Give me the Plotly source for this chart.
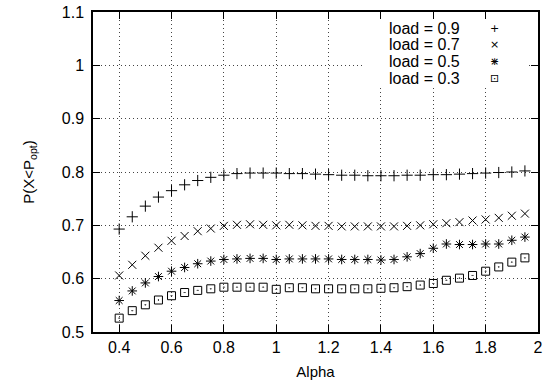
import plotly.graph_objects as go

alpha = [0.40, 0.45, 0.50, 0.55, 0.60, 0.65, 0.70, 0.75, 0.80, 0.85, 0.90, 0.95,
         1.00, 1.05, 1.10, 1.15, 1.20, 1.25, 1.30, 1.35, 1.40, 1.45, 1.50, 1.55,
         1.60, 1.65, 1.70, 1.75, 1.80, 1.85, 1.90, 1.95]

load_09 = [0.693, 0.716, 0.736, 0.753, 0.765, 0.776, 0.784, 0.790, 0.794, 0.797, 0.798, 0.798,
           0.798, 0.797, 0.797, 0.796, 0.795, 0.794, 0.794, 0.793, 0.793, 0.793, 0.794, 0.794,
           0.795, 0.795, 0.796, 0.797, 0.798, 0.799, 0.800, 0.802]

load_07 = [0.606, 0.626, 0.643, 0.658, 0.671, 0.680, 0.689, 0.694, 0.699, 0.701, 0.702, 0.701,
           0.700, 0.701, 0.700, 0.699, 0.699, 0.698, 0.698, 0.698, 0.698, 0.698, 0.699, 0.700,
           0.702, 0.704, 0.706, 0.709, 0.711, 0.714, 0.718, 0.722]

load_05 = [0.559, 0.577, 0.592, 0.604, 0.614, 0.621, 0.628, 0.633, 0.636, 0.637, 0.638, 0.638,
           0.636, 0.637, 0.637, 0.637, 0.637, 0.636, 0.636, 0.636, 0.635, 0.636, 0.641, 0.647,
           0.657, 0.665, 0.664, 0.664, 0.665, 0.665, 0.672, 0.678]

load_03 = [0.526, 0.540, 0.551, 0.560, 0.568, 0.574, 0.578, 0.581, 0.584, 0.584, 0.584, 0.584,
           0.580, 0.583, 0.583, 0.581, 0.581, 0.581, 0.581, 0.581, 0.582, 0.583, 0.585, 0.588,
           0.591, 0.597, 0.601, 0.606, 0.614, 0.622, 0.631, 0.639]

series_names = ["load = 0.9", "load = 0.7", "load = 0.5", "load = 0.3"]
series_values = [load_09, load_07, load_05, load_03]
series_symbols = ["cross-thin-open", "x-thin-open", "asterisk-open", "square-open-dot"]
# key glyphs (asterisk drawn as + overlaid with x, like the gnuplot point type)
legend_glyphs = [["+"], ["×"], ["+", "×"], ["⊡"]]

x_tickvals = [0.4, 0.6, 0.8, 1.0, 1.2, 1.4, 1.6, 1.8, 2.0]
x_ticktext = ["0.4", "0.6", "0.8", "1", "1.2", "1.4", "1.6", "1.8", "2"]
y_tickvals = [0.5, 0.6, 0.7, 0.8, 0.9, 1.0, 1.1]
y_ticktext = ["0.5", "0.6", "0.7", "0.8", "0.9", "1", "1.1"]

FONT = "Liberation Sans, Arial, sans-serif"
FS = 16

fig = go.Figure()
for name, vals, sym in zip(series_names, series_values, series_symbols):
    fig.add_trace(go.Scatter(
        x=alpha, y=vals, name=name, mode="markers",
        marker=dict(symbol=sym, size=8, color="black",
                    line=dict(color="black", width=1)),
        showlegend=False,
    ))

# opaque key box: covers the grid lines, stops just under the mirrored top ticks
fig.add_shape(type="rect", xref="paper", yref="paper",
              x0=0.6045, x1=0.9775, y0=0.7625, y1=0.9765,
              fillcolor="white", line=dict(width=0), layer="above")

row_y = [0.950, 0.897, 0.844, 0.792]
for name, glyphs, yy in zip(series_names, legend_glyphs, row_y):
    fig.add_annotation(xref="paper", yref="paper", x=0.829, y=yy,
                       text=name, showarrow=False, xanchor="right", yanchor="middle",
                       font=dict(family=FONT, size=FS, color="black"))
    for g in glyphs:
        fig.add_annotation(xref="paper", yref="paper", x=0.903, y=yy,
                           text=g, showarrow=False, xanchor="center", yanchor="middle",
                           font=dict(family="DejaVu Sans", size=11, color="black"))

axis_common = dict(
    showline=True, linecolor="black", linewidth=1.5, mirror="ticks",
    ticks="inside", ticklen=7, tickwidth=1, tickcolor="black",
    showgrid=True, gridcolor="#444444", griddash="1px,3px", gridwidth=1,
    zeroline=False, automargin=False,
    tickfont=dict(family=FONT, size=FS, color="black"),
)

fig.update_xaxes(range=[0.3, 2.0], tickmode="array", tickvals=x_tickvals, ticktext=x_ticktext,
                 title=dict(text="Alpha", font=dict(family=FONT, size=FS - 1, color="black"), standoff=12),
                 **axis_common)
fig.update_yaxes(range=[0.5, 1.1], tickmode="array", tickvals=y_tickvals, ticktext=y_ticktext,
                 ticklabelstandoff=4,
                 title=dict(text="P(X&lt;P<sub>opt</sub>)", font=dict(family=FONT, size=FS - 1, color="black"), standoff=24),
                 **axis_common)

fig.update_layout(
    width=559, height=385,
    margin=dict(l=93, r=21, t=12, b=53, autoexpand=False),
    paper_bgcolor="white", plot_bgcolor="white",
    font=dict(family=FONT, size=FS, color="black"),
)

fig.write_html("out.html")
